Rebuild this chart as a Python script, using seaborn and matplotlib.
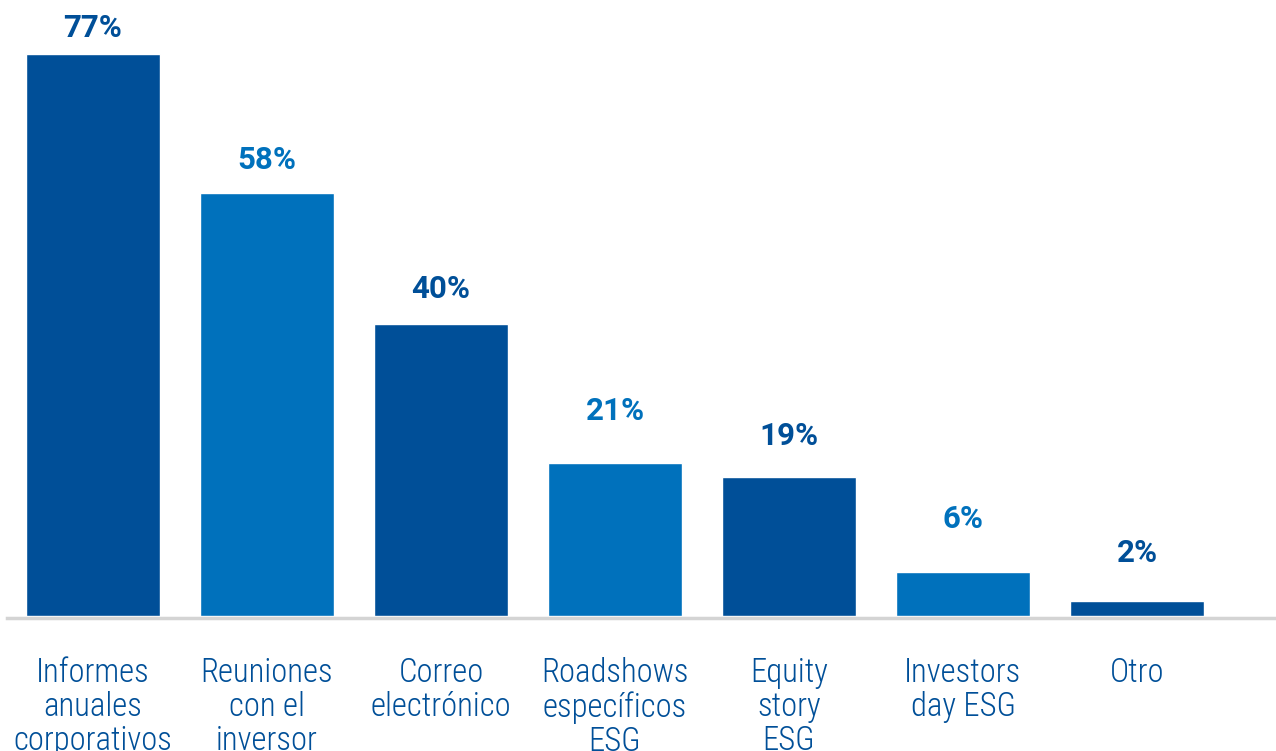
import matplotlib
matplotlib.use("Agg")
import matplotlib.pyplot as plt
import seaborn as sns
import pandas as pd

categories = [
    "Informes\nanuales\ncorporativos",
    "Reuniones\ncon el\ninversor",
    "Correo\nelectrónico",
    "Roadshows\nespecíficos\nESG",
    "Equity\nstory\nESG",
    "Investors\nday ESG",
    "Otro",
]
values = [77, 58, 40, 21, 19, 6, 2]
value_labels = ["77%", "58%", "40%", "21%", "19%", "6%", "2%"]

DARK = "#004F98"
LIGHT = "#0071BC"
bar_colors = [DARK, LIGHT, DARK, LIGHT, DARK, LIGHT, DARK]
# gap (points) between bar top and label baseline, as placed in the reference
label_gaps = [12.2, 17.3, 18.7, 31.0, 23.0, 31.7, 28.4]

sns.set_theme(style="white")
plt.rcParams["font.family"] = ["Roboto Condensed", "DejaVu Sans"]

df = pd.DataFrame({"cat": categories, "val": values})

fig = plt.figure(figsize=(12.76, 7.51), dpi=100)
ax = fig.add_axes([7 / 1276, 135 / 751, 1269 / 1276, 584 / 751])

sns.barplot(data=df, x="cat", y="val", hue="cat", palette=bar_colors,
            width=0.77, legend=False, ax=ax, saturation=1)

ax.set_xlim(-0.494, 6.799)
ax.set_ylim(0, 80)

for i, (v, lab) in enumerate(zip(values, value_labels)):
    ax.annotate(lab, (i, v), xytext=(0, label_gaps[i]), textcoords="offset points",
                ha="center", va="baseline", fontsize=22.5, fontweight="bold",
                color=bar_colors[i], family=["Roboto", "DejaVu Sans"])

ax.set_xlabel("")
ax.set_ylabel("")
ax.set_yticks([])
for s in ["top", "left", "right"]:
    ax.spines[s].set_visible(False)
ax.spines["bottom"].set_color("#d4d4d4")
ax.spines["bottom"].set_linewidth(2.5)
ax.spines["bottom"].set_position(("outward", 1.2))
ax.spines["bottom"].set_zorder(0.5)

ax.tick_params(axis="x", length=0, pad=28.5)
for t in ax.get_xticklabels():
    t.set_fontsize(23.5)
    t.set_fontweight("light")
    t.set_color(DARK)
    t.set_linespacing(1.08)
    t.set_verticalalignment("top")
    t.set_horizontalalignment("center")

fig.savefig("out.png", dpi=100)
